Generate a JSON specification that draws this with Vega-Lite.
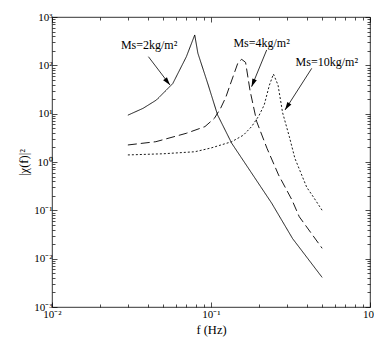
{
  "$schema": "https://vega.github.io/schema/vega-lite/v6.json",
  "width": 318,
  "height": 290,
  "autosize": {"type": "none"},
  "padding": {"left": 52, "top": 17, "right": 4, "bottom": 37},
  "background": "white",
  "config": {
    "view": {"stroke": "black", "strokeWidth": 0.8},
    "axis": {
      "domain": false,
      "grid": false,
      "labelFont": "Liberation Serif",
      "labelFontSize": 11,
      "labelColor": "black",
      "titleFont": "Liberation Serif",
      "titleFontSize": 12.5,
      "titleFontWeight": "normal",
      "titleColor": "black",
      "tickColor": "black",
      "tickWidth": 0.7
    },
    "text": {"font": "Liberation Serif"}
  },
  "datasets": {
    "curves": [
      {"f": 0.03, "chi": 9.3, "s": "Ms=2"},
      {"f": 0.0374, "chi": 12.9, "s": "Ms=2"},
      {"f": 0.0454, "chi": 19.2, "s": "Ms=2"},
      {"f": 0.0575, "chi": 42, "s": "Ms=2"},
      {"f": 0.07, "chi": 151, "s": "Ms=2"},
      {"f": 0.079, "chi": 425, "s": "Ms=2"},
      {"f": 0.0827, "chi": 178, "s": "Ms=2"},
      {"f": 0.0961, "chi": 39, "s": "Ms=2"},
      {"f": 0.11, "chi": 9.4, "s": "Ms=2"},
      {"f": 0.135, "chi": 2.44, "s": "Ms=2"},
      {"f": 0.172, "chi": 0.74, "s": "Ms=2"},
      {"f": 0.241, "chi": 0.14, "s": "Ms=2"},
      {"f": 0.326, "chi": 0.026, "s": "Ms=2"},
      {"f": 0.5, "chi": 0.0041, "s": "Ms=2"},
      {"f": 0.03, "chi": 2.25, "s": "Ms=4"},
      {"f": 0.045, "chi": 2.63, "s": "Ms=4"},
      {"f": 0.07, "chi": 3.93, "s": "Ms=4"},
      {"f": 0.0916, "chi": 5.4, "s": "Ms=4"},
      {"f": 0.105, "chi": 8, "s": "Ms=4"},
      {"f": 0.115, "chi": 13, "s": "Ms=4"},
      {"f": 0.124, "chi": 22, "s": "Ms=4"},
      {"f": 0.131, "chi": 37, "s": "Ms=4"},
      {"f": 0.138, "chi": 60, "s": "Ms=4"},
      {"f": 0.148, "chi": 115, "s": "Ms=4"},
      {"f": 0.156, "chi": 133, "s": "Ms=4"},
      {"f": 0.165, "chi": 115, "s": "Ms=4"},
      {"f": 0.176, "chi": 30, "s": "Ms=4"},
      {"f": 0.194, "chi": 6.8, "s": "Ms=4"},
      {"f": 0.225, "chi": 1.92, "s": "Ms=4"},
      {"f": 0.266, "chi": 0.54, "s": "Ms=4"},
      {"f": 0.323, "chi": 0.164, "s": "Ms=4"},
      {"f": 0.359, "chi": 0.0738, "s": "Ms=4"},
      {"f": 0.5, "chi": 0.0164, "s": "Ms=4"},
      {"f": 0.03, "chi": 1.4, "s": "Ms=10"},
      {"f": 0.05, "chi": 1.48, "s": "Ms=10"},
      {"f": 0.0792, "chi": 1.63, "s": "Ms=10"},
      {"f": 0.1, "chi": 1.95, "s": "Ms=10"},
      {"f": 0.135, "chi": 2.63, "s": "Ms=10"},
      {"f": 0.16, "chi": 3.6, "s": "Ms=10"},
      {"f": 0.18, "chi": 5.4, "s": "Ms=10"},
      {"f": 0.2, "chi": 9, "s": "Ms=10"},
      {"f": 0.216, "chi": 15.1, "s": "Ms=10"},
      {"f": 0.233, "chi": 39, "s": "Ms=10"},
      {"f": 0.247, "chi": 66, "s": "Ms=10"},
      {"f": 0.264, "chi": 39, "s": "Ms=10"},
      {"f": 0.282, "chi": 10.5, "s": "Ms=10"},
      {"f": 0.311, "chi": 3.33, "s": "Ms=10"},
      {"f": 0.337, "chi": 1.19, "s": "Ms=10"},
      {"f": 0.4, "chi": 0.3, "s": "Ms=10"},
      {"f": 0.44, "chi": 0.19, "s": "Ms=10"},
      {"f": 0.5, "chi": 0.1, "s": "Ms=10"}
    ],
    "notes": [
      {"label": "Ms=2kg/m²", "tx": 0.0408, "ty": 264, "x1": 0.0404, "y1": 151, "x2": 0.0552, "y2": 39.2},
      {"label": "Ms=4kg/m²", "tx": 0.208, "ty": 286, "x1": 0.224, "y1": 208, "x2": 0.18, "y2": 36.1},
      {"label": "Ms=10kg/m²", "tx": 0.535, "ty": 119, "x1": 0.43, "y1": 86.7, "x2": 0.292, "y2": 11.9}
    ]
  },
  "resolve": {"axis": {"x": "independent", "y": "independent"}},
  "layer": [
    {
      "data": {"name": "curves"},
      "mark": {"type": "line", "color": "black", "strokeWidth": 0.9, "clip": true},
      "encoding": {
        "x": {
          "field": "f", "type": "quantitative",
          "scale": {"type": "log", "domain": [0.01, 1], "nice": false},
          "axis": {
            "orient": "bottom",
            "title": "f (Hz)",
            "titlePadding": 2,
            "values": [0.01,0.02,0.03,0.04,0.05,0.06,0.07,0.08,0.09,0.1,0.2,0.3,0.4,0.5,0.6,0.7,0.8,0.9,1],
            "tickSize": {"condition": {"test": "abs(log(datum.value)/LN10 - round(log(datum.value)/LN10)) < 0.001", "value": -5}, "value": -3},
            "labelPadding": 6,
            "labelFlush": false,
            "labelOverlap": false,
            "labelExpr": "abs(log(datum.value)/LN10 - round(log(datum.value)/LN10)) < 0.001 ? '10' + replace(replace(replace(replace(replace(toString(round(log(datum.value)/LN10)),'-','⁻'),'0','⁰'),'1','¹'),'2','²'),'3','³') : ''"
          }
        },
        "y": {
          "field": "chi", "type": "quantitative",
          "scale": {"type": "log", "domain": [0.001, 1000], "nice": false},
          "axis": {
            "orient": "left",
            "title": "|χ(f)|²",
            "titlePadding": 3,
            "values": [0.001,0.002,0.003,0.004,0.005,0.006,0.007,0.008,0.009,0.01,0.02,0.03,0.04,0.05,0.06,0.07,0.08,0.09,0.1,0.2,0.3,0.4,0.5,0.6,0.7,0.8,0.9,1,2,3,4,5,6,7,8,9,10,20,30,40,50,60,70,80,90,100,200,300,400,500,600,700,800,900,1000],
            "tickSize": {"condition": {"test": "abs(log(datum.value)/LN10 - round(log(datum.value)/LN10)) < 0.001", "value": -5}, "value": -3},
            "labelPadding": 5,
            "labelFlush": false,
            "labelOverlap": false,
            "labelExpr": "abs(log(datum.value)/LN10 - round(log(datum.value)/LN10)) < 0.001 ? '10' + replace(replace(replace(replace(replace(toString(round(log(datum.value)/LN10)),'-','⁻'),'0','⁰'),'1','¹'),'2','²'),'3','³') : ''"
          }
        },
        "strokeDash": {
          "field": "s", "type": "nominal",
          "scale": {"domain": ["Ms=2", "Ms=4", "Ms=10"], "range": [[1, 0], [9, 4], [2, 2]]},
          "legend": null
        },
        "order": {"field": "f", "type": "quantitative"}
      }
    },
    {
      "data": {"name": "notes"},
      "mark": {"type": "text", "fontSize": 12, "color": "black", "align": "center", "baseline": "middle"},
      "encoding": {
        "x": {
          "field": "tx", "type": "quantitative",
          "axis": {
            "orient": "top", "title": null, "labels": false,
            "values": [0.01,0.02,0.03,0.04,0.05,0.06,0.07,0.08,0.09,0.1,0.2,0.3,0.4,0.5,0.6,0.7,0.8,0.9,1],
            "tickSize": {"condition": {"test": "abs(log(datum.value)/LN10 - round(log(datum.value)/LN10)) < 0.001", "value": -5}, "value": -3}
          }
        },
        "y": {
          "field": "ty", "type": "quantitative",
          "axis": {
            "orient": "right", "title": null, "labels": false,
            "values": [0.001,0.002,0.003,0.004,0.005,0.006,0.007,0.008,0.009,0.01,0.02,0.03,0.04,0.05,0.06,0.07,0.08,0.09,0.1,0.2,0.3,0.4,0.5,0.6,0.7,0.8,0.9,1,2,3,4,5,6,7,8,9,10,20,30,40,50,60,70,80,90,100,200,300,400,500,600,700,800,900,1000],
            "tickSize": {"condition": {"test": "abs(log(datum.value)/LN10 - round(log(datum.value)/LN10)) < 0.001", "value": -5}, "value": -3}
          }
        },
        "text": {"field": "label"}
      }
    },
    {
      "data": {"name": "notes"},
      "mark": {"type": "rule", "color": "black", "strokeWidth": 0.8},
      "encoding": {
        "x": {"field": "x1", "type": "quantitative", "axis": null},
        "y": {"field": "y1", "type": "quantitative", "axis": null},
        "x2": {"field": "x2"},
        "y2": {"field": "y2"}
      }
    },
    {
      "data": {"name": "notes"},
      "mark": {"type": "point", "shape": "M0,0L-0.6,2L0.6,2Z", "filled": true, "color": "black", "size": 64, "opacity": 1},
      "encoding": {
        "x": {"field": "x2", "type": "quantitative", "axis": null},
        "y": {"field": "y2", "type": "quantitative", "axis": null},
        "angle": {
          "condition": [
            {"test": "datum.label === 'Ms=2kg/m²'", "value": 142},
            {"test": "datum.label === 'Ms=4kg/m²'", "value": 202}
          ],
          "value": 213
        }
      }
    }
  ]
}
